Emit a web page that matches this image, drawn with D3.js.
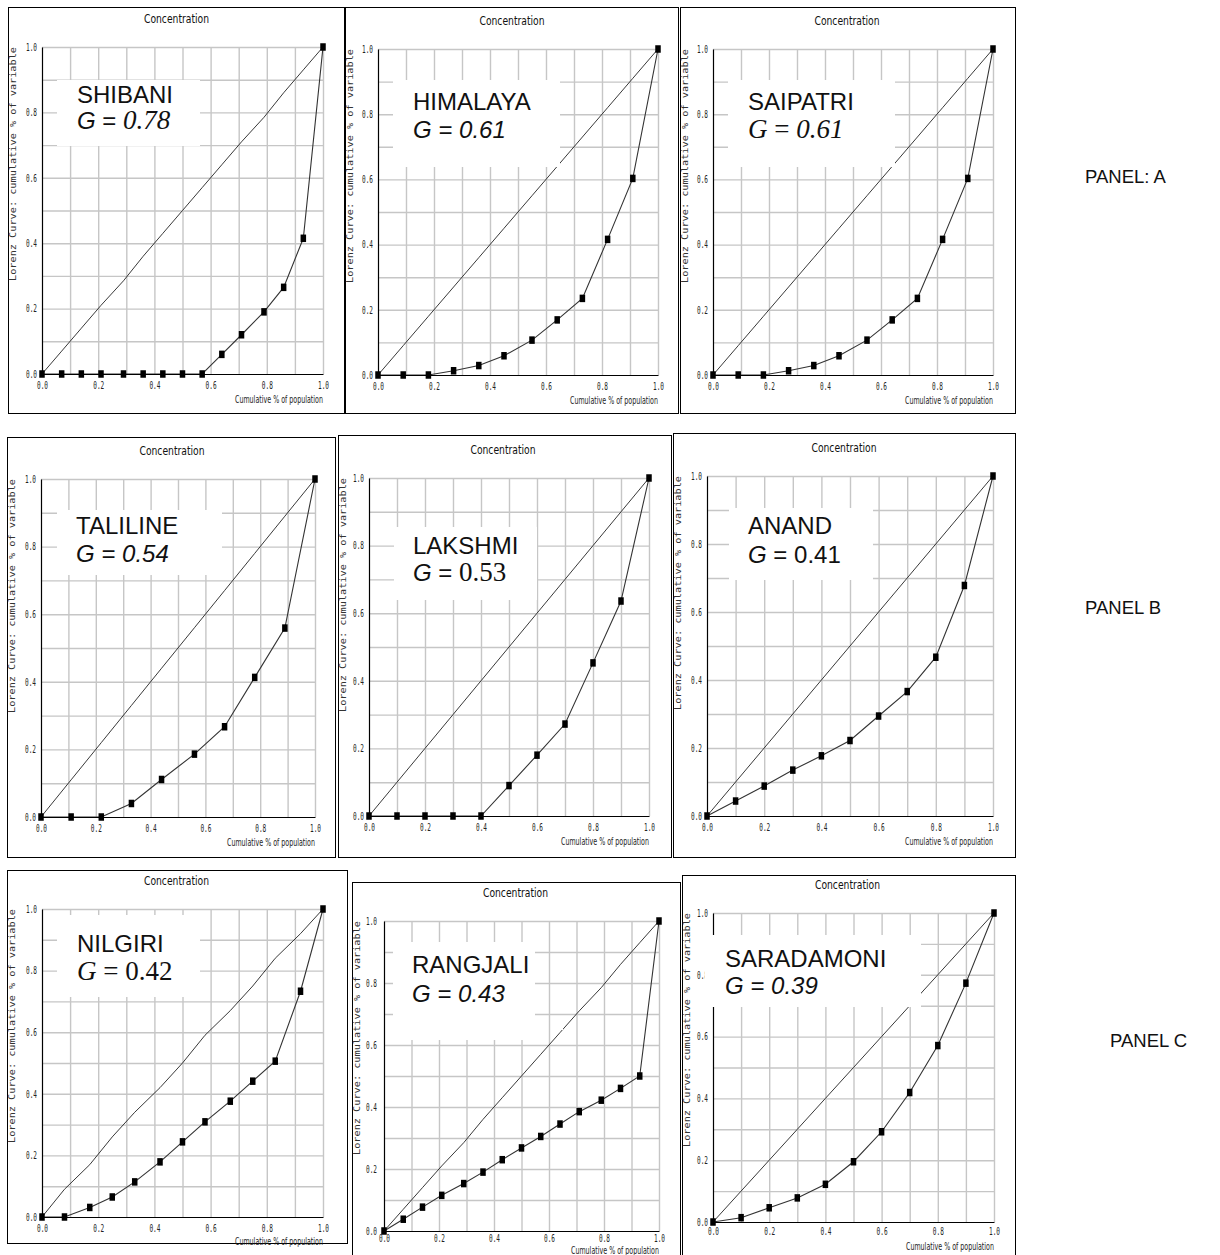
<!DOCTYPE html>
<html>
<head>
<meta charset="utf-8">
<script src="https://cdn.jsdelivr.net/npm/d3@7"></script>
<style>
  body { margin: 0; background: #fff; }
  svg { display: block; }
</style>
</head>
<body>
<script>

// Data: cumulative share of population (x), Lorenz curve (y) and line of equality
const stationNames = ['SHIBANI', 'HIMALAYA', 'SAIPATRI', 'TALILINE', 'LAKSHMI', 'ANAND', 'NILGIRI', 'RANGJALI', 'SARADAMONI'];
const giniValues = ['0.78', '0.61', '0.61', '0.54', '0.53', '0.41', '0.42', '0.43', '0.39'];
const panelTitles = ['PANEL: A', 'PANEL B', 'PANEL C'];

const shibaniPop = [0, 0.07, 0.14, 0.21, 0.29, 0.36, 0.43, 0.50, 0.57, 0.64, 0.71, 0.79, 0.86, 0.93, 1.0];
const shibaniLorenz = [0, 0, 0, 0, 0, 0, 0, 0, 0, 0.06, 0.12, 0.19, 0.265, 0.415, 1.0];
const shibaniEqual = [0, 0.07, 0.14, 0.21, 0.285, 0.36, 0.43, 0.50, 0.57, 0.64, 0.71, 0.785, 0.86, 0.93, 1.0];

const himalayaPop = [0, 0.09, 0.18, 0.27, 0.36, 0.45, 0.55, 0.64, 0.73, 0.82, 0.91, 1.0];
const himalayaLorenz = [0, 0, 0, 0.013, 0.029, 0.059, 0.107, 0.169, 0.235, 0.416, 0.603, 1.0];

const saipatriPop = [0, 0.09, 0.18, 0.27, 0.36, 0.45, 0.55, 0.64, 0.73, 0.82, 0.91, 1.0];
const saipatriLorenz = [0, 0, 0, 0.013, 0.029, 0.059, 0.107, 0.169, 0.235, 0.416, 0.603, 1.0];

const talilinePop = [0, 0.11, 0.22, 0.33, 0.44, 0.56, 0.67, 0.78, 0.89, 1.0];
const talilineLorenz = [0, 0, 0, 0.04, 0.111, 0.186, 0.267, 0.413, 0.559, 1.0];

const lakshmiPop = [0, 0.1, 0.2, 0.3, 0.4, 0.5, 0.6, 0.7, 0.8, 0.9, 1.0];
const lakshmiLorenz = [0, 0, 0, 0, 0, 0.09, 0.18, 0.272, 0.453, 0.636, 1.0];

const anandPop = [0, 0.1, 0.2, 0.3, 0.4, 0.5, 0.6, 0.7, 0.8, 0.9, 1.0];
const anandLorenz = [0, 0.044, 0.088, 0.135, 0.177, 0.222, 0.294, 0.366, 0.467, 0.678, 1.0];

const nilgiriPop = [0, 0.08, 0.17, 0.25, 0.33, 0.42, 0.50, 0.58, 0.67, 0.75, 0.83, 0.92, 1.0];
const nilgiriLorenz = [0, 0, 0.031, 0.065, 0.114, 0.179, 0.244, 0.309, 0.376, 0.441, 0.506, 0.733, 1.0];
const nilgiriEqual = [0, 0.09, 0.17, 0.26, 0.34, 0.42, 0.50, 0.59, 0.67, 0.75, 0.84, 0.92, 1.0];

const rangjaliPop = [0, 0.07, 0.14, 0.21, 0.29, 0.36, 0.43, 0.50, 0.57, 0.64, 0.71, 0.79, 0.86, 0.93, 1.0];
const rangjaliLorenz = [0, 0.038, 0.077, 0.115, 0.153, 0.19, 0.23, 0.268, 0.305, 0.345, 0.385, 0.422, 0.46, 0.50, 1.0];
const rangjaliEqual = [0, 0.07, 0.14, 0.21, 0.285, 0.36, 0.43, 0.50, 0.57, 0.64, 0.71, 0.785, 0.86, 0.93, 1.0];

const saradamoniPop = [0, 0.1, 0.2, 0.3, 0.4, 0.5, 0.6, 0.7, 0.8, 0.9, 1.0];
const saradamoniLorenz = [0, 0.014, 0.046, 0.078, 0.122, 0.195, 0.292, 0.419, 0.571, 0.773, 1.0];

const gridTicks = [0.1, 0.2, 0.3, 0.4, 0.5, 0.6, 0.7, 0.8, 0.9, 1.0];
const labelTicks = [0, 0.2, 0.4, 0.6, 0.8, 1.0];

// series per panel (equality line defaults to y = x on the same population points)
const series = [
    {pop: shibaniPop, lorenz: shibaniLorenz, equal: shibaniEqual},
    {pop: himalayaPop, lorenz: himalayaLorenz, equal: himalayaPop},
    {pop: saipatriPop, lorenz: saipatriLorenz, equal: saipatriPop},
    {pop: talilinePop, lorenz: talilineLorenz, equal: talilinePop},
    {pop: lakshmiPop, lorenz: lakshmiLorenz, equal: lakshmiPop},
    {pop: anandPop, lorenz: anandLorenz, equal: anandPop},
    {pop: nilgiriPop, lorenz: nilgiriLorenz, equal: nilgiriEqual},
    {pop: rangjaliPop, lorenz: rangjaliLorenz, equal: rangjaliEqual},
    {pop: saradamoniPop, lorenz: saradamoniLorenz, equal: saradamoniPop}
];

// Layout: frame [x,y,w,h], plot [left,top,right,bottom], white label boxes [x,y,w,h], text [x, baseline1, baseline2]
// g: font for "G", "=", value -> s/r = sans/serif, i = italic ; xl: gap below axis for x label
// tp / yp: padding of x / y tick labels
const layout = [
    {frame: [8, 7, 336, 406],   plot: [42, 47, 323, 374],    box: [[57, 80, 143, 66]],   text: [77, 103, 129],  g: ['si', 's', 'ri'], xl: 29, tp: 8, yp: 5},
    {frame: [345, 7, 333, 406], plot: [378, 49, 658, 375],   box: [[393, 80, 167, 87]],  text: [413, 110, 138], g: ['si', 'si', 'si'], xl: 29, tp: 8, yp: 5},
    {frame: [680, 7, 335, 406], plot: [713, 49, 993, 375],   box: [[728, 80, 167, 87]],  text: [748, 110, 138], g: ['ri', 'r', 'ri'], xl: 29, tp: 8, yp: 5},
    {frame: [7, 437, 328, 420], plot: [41, 479, 315, 817],   box: [[57, 510, 165, 65]],  text: [76, 534, 562],  g: ['si', 'si', 'si'], xl: 29, tp: 8, yp: 5},
    {frame: [338, 435, 333, 422], plot: [369, 478, 649, 816], box: [[394, 527, 143, 73]], text: [413, 554, 581], g: ['si', 's', 'r'], xl: 29, tp: 8, yp: 5},
    {frame: [673, 433, 342, 424], plot: [707, 476, 993, 816], box: [[729, 508, 144, 72]], text: [748, 534, 563], g: ['si', 's', 's'], xl: 29, tp: 8, yp: 5},
    {frame: [7, 870, 340, 373], plot: [42, 909, 323, 1217],  box: [[57, 915, 143, 82]],  text: [77, 952, 980],  g: ['ri', 'r', 'r'], xl: 28, tp: 8, yp: 5},
    {frame: [352, 882, 328, 380], plot: [384, 921, 659, 1231], box: [[393, 942, 142, 98], [557, 1022, 6, 8]], text: [412, 973, 1002], g: ['si', 'si', 'si'], xl: 22.5, tp: 4, yp: 7},
    {frame: [682, 875, 333, 390], plot: [713, 913, 994, 1222], box: [[704.5, 935, 216.5, 72]], text: [725, 967, 994], g: ['si', 'si', 'si'], xl: 28, tp: 6, yp: 5}
];

const panelLabelPos = [[1085, 183], [1085, 614], [1110, 1047]];

const svg = d3.select('body').append('svg')
    .attr('width', 1220)
    .attr('height', 1255);

const sansFont = '"Liberation Sans", Arial, sans-serif';
const serifFont = '"Liberation Serif", "Times New Roman", serif';
const monoFont = '"DejaVu Sans Mono", monospace';

series.forEach(function(s, i) { drawPanel(s, layout[i], stationNames[i], giniValues[i]); });

panelTitles.forEach(function(t, i) {
    svg.append('text')
        .attr('x', panelLabelPos[i][0])
        .attr('y', panelLabelPos[i][1])
        .style('font-family', sansFont)
        .style('font-size', '18.5px')
        .style('fill', '#111')
        .text(t);
});

function drawPanel(s, L, name, gini) {

    var g = svg.append('g');
    var left = L.plot[0], top = L.plot[1], right = L.plot[2], bottom = L.plot[3];

    var x = d3.scaleLinear().domain([0, 1]).range([left, right]);
    var y = d3.scaleLinear().domain([0, 1]).range([bottom, top]);

    //frame around the chart
    g.append('rect')
        .attr('x', L.frame[0] + 0.5).attr('y', L.frame[1] + 0.5)
        .attr('width', L.frame[2]).attr('height', L.frame[3])
        .attr('fill', '#fff')
        .attr('stroke', '#000')
        .attr('stroke-width', 1);

    //grid lines every 0.1
    g.append('g')
        .attr('transform', 'translate(0,' + bottom + ')')
        .call(d3.axisBottom(x).tickValues(gridTicks).tickSize(-(bottom - top)).tickFormat(''))
        .call(function(a) { a.select('.domain').remove(); })
        .selectAll('line')
        .attr('stroke', '#c6c6c6')
        .attr('stroke-width', 1.4);

    g.append('g')
        .attr('transform', 'translate(' + left + ',0)')
        .call(d3.axisLeft(y).tickValues(gridTicks).tickSize(-(right - left)).tickFormat(''))
        .call(function(a) { a.select('.domain').remove(); })
        .selectAll('line')
        .attr('stroke', '#c6c6c6')
        .attr('stroke-width', 1.4);

    //line of equality
    var line = d3.line()
        .x(function(d) { return x(d[0]); })
        .y(function(d) { return y(d[1]); });

    g.append('path')
        .datum(s.pop.map(function(p, k) { return [p, s.equal[k]]; }))
        .attr('d', line)
        .attr('fill', 'none')
        .attr('stroke', '#222')
        .attr('stroke-width', 0.9);

    //lorenz curve
    var pts = s.pop.map(function(p, k) { return [p, s.lorenz[k]]; });
    g.append('path')
        .datum(pts)
        .attr('d', line)
        .attr('fill', 'none')
        .attr('stroke', '#333')
        .attr('stroke-width', 1.1);

    //axes with tick labels (black domain lines)
    var xAxis = g.append('g')
        .attr('transform', 'translate(0,' + bottom + ')')
        .call(d3.axisBottom(x).tickValues(labelTicks).tickSize(0).tickSizeOuter(0).tickPadding(L.tp).tickFormat(d3.format('.1f')));

    var yAxis = g.append('g')
        .attr('transform', 'translate(' + left + ',0)')
        .call(d3.axisLeft(y).tickValues(labelTicks).tickSize(0).tickSizeOuter(0).tickPadding(L.yp).tickFormat(d3.format('.1f')));

    [xAxis, yAxis].forEach(function(a) {
        a.select('.domain').attr('stroke', '#000').attr('stroke-width', 1.2);
        a.selectAll('text')
            .style('font-family', monoFont)
            .style('font-size', '10px')
            .attr('fill', '#222')
            .attr('textLength', 11)
            .attr('lengthAdjust', 'spacingAndGlyphs');
    });

    //square markers
    g.selectAll('.marker')
        .data(pts)
        .enter().append('rect')
        .attr('class', 'marker')
        .attr('x', function(d) { return x(d[0]) - 2.75; })
        .attr('y', function(d) { return y(d[1]) - 3.75; })
        .attr('width', 5.5)
        .attr('height', 7.5)
        .attr('fill', '#000');

    //title and axis labels
    g.append('text')
        .attr('x', (left + right) / 2 - 6)
        .attr('y', top - 24)
        .attr('text-anchor', 'middle')
        .attr('textLength', 65)
        .attr('lengthAdjust', 'spacingAndGlyphs')
        .style('font-family', '"DejaVu Sans", sans-serif')
        .style('font-size', '12px')
        .attr('fill', '#111')
        .text('Concentration');

    g.append('text')
        .attr('x', right)
        .attr('y', bottom + L.xl)
        .attr('text-anchor', 'end')
        .attr('textLength', 88)
        .attr('lengthAdjust', 'spacingAndGlyphs')
        .style('font-family', '"DejaVu Sans", sans-serif')
        .style('font-size', '10px')
        .attr('fill', '#222')
        .text('Cumulative % of population');

    g.append('text')
        .attr('transform', 'translate(' + (L.frame[0] + 8) + ',' + top + ') rotate(-90)')
        .attr('text-anchor', 'end')
        .attr('textLength', 234)
        .attr('lengthAdjust', 'spacingAndGlyphs')
        .style('font-family', monoFont)
        .style('font-size', '9px')
        .attr('fill', '#333')
        .text('Lorenz Curve: cumulative % of variable');

    //white label boxes pasted over the plot
    g.selectAll('.label-box')
        .data(L.box)
        .enter().append('rect')
        .attr('class', 'label-box')
        .attr('x', function(b) { return b[0]; })
        .attr('y', function(b) { return b[1]; })
        .attr('width', function(b) { return b[2]; })
        .attr('height', function(b) { return b[3]; })
        .attr('fill', '#fff');

    g.append('text')
        .attr('x', L.text[0])
        .attr('y', L.text[1])
        .style('font-family', sansFont)
        .style('font-size', '24px')
        .attr('fill', '#111')
        .text(name);

    var parts = ['G', ' = ', gini];
    var gText = g.append('text')
        .attr('x', L.text[0])
        .attr('y', L.text[2])
        .attr('fill', '#111');

    parts.forEach(function(p, k) {
        var code = L.g[k];
        var serif = code[0] == 'r';
        gText.append('tspan')
            .style('font-family', serif ? serifFont : sansFont)
            .style('font-size', serif ? '27px' : '24px')
            .style('font-style', code.indexOf('i') >= 0 ? 'italic' : 'normal')
            .text(p);
    });
}

</script>
</body>
</html>
